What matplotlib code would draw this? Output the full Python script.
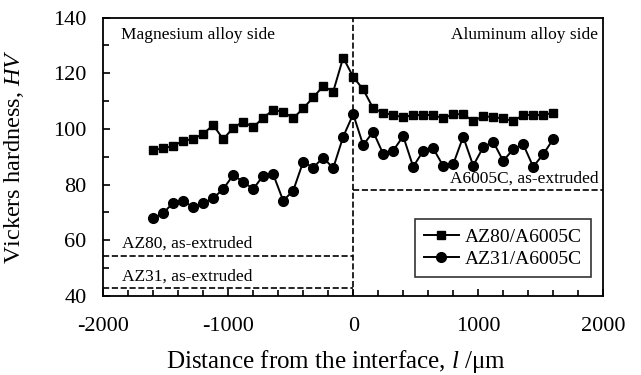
import numpy as np
import matplotlib
matplotlib.use("Agg")
import matplotlib.pyplot as plt
from matplotlib.ticker import MultipleLocator

plt.rcParams['font.family'] = ['Liberation Serif', 'DejaVu Serif']
plt.rcParams['mathtext.fontset'] = 'custom'
plt.rcParams['mathtext.it'] = 'Liberation Serif:italic'
plt.rcParams['mathtext.rm'] = 'Liberation Serif'
plt.rcParams['axes.unicode_minus'] = False

# distance from the interface (um), 80 um steps
distance = np.arange(-1600, 1601, 80)

az80_hv = [92.4, 93.0, 93.9, 95.7, 96.4, 98.2, 101.4, 96.3, 100.4, 102.6,
           100.6, 104.0, 106.8, 106.2, 103.8, 107.4, 111.3, 115.4, 113.4, 125.6,
           118.7,
           114.2, 107.4, 105.8, 105.0, 104.2, 105.0, 105.0, 105.0, 103.8, 105.3,
           105.3, 102.8, 104.6, 104.2, 103.8, 102.8, 105.0, 105.0, 105.0, 105.8]

az31_hv = [67.9, 69.7, 73.5, 74.2, 71.8, 73.3, 75.1, 78.4, 83.4, 81.0,
           78.4, 83.2, 83.7, 74.2, 77.8, 88.2, 86.1, 89.7, 85.9, 97.2,
           105.3,
           94.2, 99.0, 91.0, 92.2, 97.4, 86.4, 92.1, 93.0, 86.7, 87.3,
           97.2, 86.8, 93.4, 95.4, 88.5, 92.7, 94.5, 86.4, 90.9, 96.3]

# base metal hardness levels
az80_base = 54.5
az31_base = 42.8
a6005c_base = 78.1

fig = plt.figure(figsize=(6.41, 3.75), dpi=100)
ax = fig.add_axes([0.161, 0.211, 0.78, 0.742])

ax.plot(distance, az80_hv, '-s', color='black', lw=1.4, ms=6, label='AZ80/A6005C')
ax.plot(distance, az31_hv, '-o', color='black', lw=1.4, ms=7, label='AZ31/A6005C')

ax.plot([-2000, 0], [az80_base, az80_base], '--', color='black', lw=1.2)
ax.plot([-2000, 0], [az31_base, az31_base], '--', color='black', lw=1.2)
ax.plot([0, 2000], [a6005c_base, a6005c_base], '--', color='black', lw=1.2)
ax.axvline(0, ls='--', color='black', lw=1.2)

ax.text(-1850, 55.8, 'AZ80, as-extruded', fontsize=12.5, ha='left', va='bottom')
ax.text(-1850, 44.2, 'AZ31, as-extruded', fontsize=12.5, ha='left', va='bottom')
ax.text(1960, 79.3, 'A6005C, as-extruded', fontsize=12.5, ha='right', va='bottom')
ax.text(-1860, 136.5, 'Magnesium alloy side', fontsize=12.5, ha='left', va='top')
ax.text(1960, 136.5, 'Aluminum alloy side', fontsize=12.5, ha='right', va='top')

ax.set_xlim(-2000, 2000)
ax.set_ylim(40, 140)
ax.xaxis.set_major_locator(MultipleLocator(1000))
ax.xaxis.set_minor_locator(MultipleLocator(200))
ax.yaxis.set_major_locator(MultipleLocator(20))
ax.yaxis.set_minor_locator(MultipleLocator(10))
ax.tick_params(which='both', direction='in', labelsize=16, width=1.2)
ax.tick_params(which='major', length=5)
ax.tick_params(which='minor', length=4)
ax.tick_params(axis='x', pad=15)
ax.tick_params(axis='y', pad=12)
for s in ax.spines.values():
    s.set_linewidth(1.3)

ax.set_xlabel(r'Distance from the interface, $l$ /μm', fontsize=18)
ax.xaxis.set_label_coords(0.466, -0.188)
ax.set_ylabel(r'Vickers hardness, $HV$', fontsize=17.5)
ax.yaxis.set_label_coords(-0.155, 0.5)

leg = ax.legend(loc='lower right', bbox_to_anchor=(0.975, 0.068), fontsize=14,
                frameon=True, fancybox=False, edgecolor='black',
                handlelength=1.8, handletextpad=0.3, borderpad=0.45,
                labelspacing=0.25, borderaxespad=0)
leg.get_frame().set_linewidth(1.2)
leg._legend_box.sep = 4

plt.savefig('out.png', dpi=100)
